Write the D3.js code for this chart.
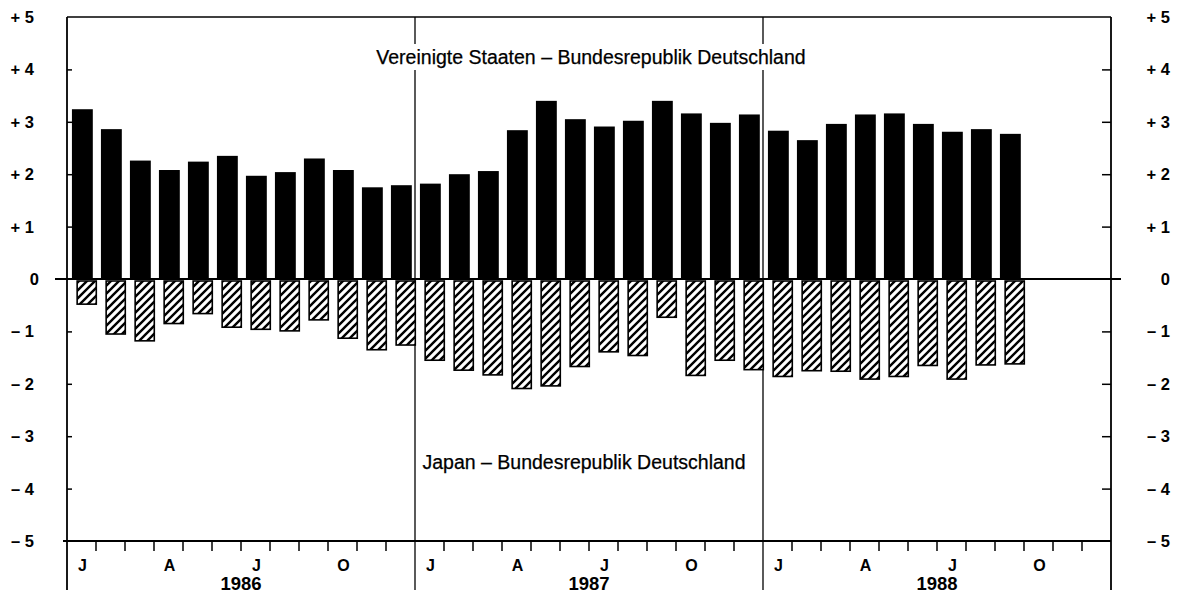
<!DOCTYPE html>
<html>
<head>
<meta charset="utf-8">
<script src="https://cdn.jsdelivr.net/npm/d3@7/dist/d3.min.js"></script>
<style>
  html, body { margin: 0; padding: 0; background: #fff; }
  svg { display: block; font-family: "Liberation Sans", Arial, Helvetica, sans-serif; }
</style>
</head>
<body>
<svg id="chart" width="1183" height="595"></svg>
<script>
// ---------- data ----------
const years = ["1986", "1987", "1988"];
const monthLetters = ["J", "", "", "A", "", "", "J", "", "", "O", "", ""];
const months = years.flatMap(yr => d3.range(1, 13).map(m => yr + "-" + String(m).padStart(2, "0")));
// Vereinigte Staaten – Bundesrepublik Deutschland (Jan 1986 – Sep 1988)
const usValues = [3.24, 2.86, 2.26, 2.08, 2.24, 2.35, 1.97, 2.04, 2.30, 2.08, 1.75, 1.79,
                  1.82, 2.00, 2.06, 2.84, 3.40, 3.05, 2.91, 3.02, 3.40, 3.16, 2.98, 3.14,
                  2.83, 2.65, 2.96, 3.14, 3.16, 2.96, 2.81, 2.86, 2.77];
// Japan – Bundesrepublik Deutschland
const japanValues = [-0.48, -1.05, -1.18, -0.85, -0.66, -0.92, -0.96, -0.99, -0.78, -1.13, -1.35, -1.26,
                     -1.55, -1.74, -1.83, -2.09, -2.04, -1.67, -1.39, -1.46, -0.73, -1.84, -1.55, -1.73,
                     -1.86, -1.75, -1.76, -1.91, -1.86, -1.65, -1.91, -1.64, -1.62];
const yTickValues = [-5, -4, -3, -2, -1, 0, 1, 2, 3, 4, 5];
const yTickLabels = ["– 5", "– 4", "– 3", "– 2", "– 1", "0", "+ 1", "+ 2", "+ 3", "+ 4", "+ 5"];
const usLabel = "Vereinigte Staaten – Bundesrepublik Deutschland";
const japanLabel = "Japan – Bundesrepublik Deutschland";

(function () {
// ---------- layout ----------
const svg = d3.select("#chart");
const pl = 67, pr = 1111, pt = 17, pb = 541;
const x = d3.scaleBand().domain(months).range([pl, pr]).padding(0);
const y = d3.scaleLinear().domain([-5, 5]).range([pb, pt]);
const bw = x.bandwidth();
const ink = "#000";

// hatch pattern
const defs = svg.append("defs");
const pat = defs.append("pattern")
  .attr("id", "hatch").attr("patternUnits", "userSpaceOnUse")
  .attr("width", 8).attr("height", 8);
pat.append("rect").attr("width", 8).attr("height", 8).attr("fill", "#fff");
pat.append("path")
  .attr("d", "M-2,2 L2,-2 M0,8 L8,0 M6,10 L10,6")
  .attr("stroke", ink).attr("stroke-width", 2.4);

// frame lines
svg.append("line").attr("x1", pl).attr("x2", pr).attr("y1", pt).attr("y2", pt)
  .attr("stroke", ink).attr("stroke-width", 1.6);
svg.append("line").attr("x1", pl - 4).attr("x2", pr).attr("y1", pb).attr("y2", pb)
  .attr("stroke", ink).attr("stroke-width", 1.8);
[pl, pr].forEach(xx => {
  svg.append("line").attr("x1", xx).attr("x2", xx).attr("y1", pt).attr("y2", 590)
    .attr("stroke", ink).attr("stroke-width", 1.8);
});
// year separators
years.slice(1).forEach(yr => {
  const xx = x(yr + "-01");
  svg.append("line").attr("x1", xx).attr("x2", xx).attr("y1", pt).attr("y2", 590)
    .attr("stroke", ink).attr("stroke-width", 1.3);
});

// y ticks via axes
const innerTicks = yTickValues.filter(v => v !== 0 && Math.abs(v) !== 5);
svg.append("g").attr("transform", `translate(${pl},0)`)
  .call(d3.axisRight(y).tickValues(innerTicks).tickSize(5).tickFormat(""))
  .call(g => g.select(".domain").remove())
  .call(g => g.selectAll("line").attr("stroke", ink).attr("stroke-width", 1.5));
svg.append("g").attr("transform", `translate(${pr},0)`)
  .call(d3.axisLeft(y).tickValues(innerTicks).tickSize(9).tickFormat(""))
  .call(g => g.select(".domain").remove())
  .call(g => g.selectAll("line").attr("stroke", ink).attr("stroke-width", 1.5));

// y tick labels
svg.append("g").selectAll("text").data(yTickValues).join("text")
  .attr("x", d => d === 0 ? 39 : 34).attr("y", d => y(d)).attr("dy", "0.36em")
  .attr("text-anchor", "end").attr("font-size", 16.5).attr("font-weight", "bold")
  .text((d, i) => yTickLabels[i]);
svg.append("g").selectAll("text").data(yTickValues).join("text")
  .attr("x", 1170).attr("y", d => y(d)).attr("dy", "0.36em")
  .attr("text-anchor", "end").attr("font-size", 16.5).attr("font-weight", "bold")
  .text((d, i) => yTickLabels[i]);

// month ticks on bottom
const monthBoundaries = months.slice(1).filter(m => !m.endsWith("-01"));
svg.append("g").selectAll("line").data(monthBoundaries).join("line")
  .attr("x1", d => x(d)).attr("x2", d => x(d))
  .attr("y1", pb).attr("y2", pb + 10)
  .attr("stroke", ink).attr("stroke-width", 1.5);

// month letters
svg.append("g").selectAll("text").data(months).join("text")
  .attr("x", d => x(d) + bw / 2 + 1).attr("y", 571)
  .attr("text-anchor", "middle").attr("font-size", 16).attr("font-weight", "bold")
  .text((d, i) => monthLetters[i % 12]);
// year labels
svg.append("g").selectAll("text").data(years).join("text")
  .attr("x", d => x(d + "-07")).attr("y", 590)
  .attr("text-anchor", "middle").attr("font-size", 18.5).attr("font-weight", "bold")
  .text(d => d);

// bars: US (solid)
svg.append("g").selectAll("rect").data(usValues).join("rect")
  .attr("x", (d, i) => x(months[i]) + bw * 0.17)
  .attr("width", bw * 0.72)
  .attr("y", d => y(d))
  .attr("height", d => y(0) - y(d))
  .attr("fill", ink);

// bars: Japan (hatched)
svg.append("g").selectAll("rect").data(japanValues).join("rect")
  .attr("x", (d, i) => x(months[i]) + bw * 0.35)
  .attr("width", bw * 0.66)
  .attr("y", y(0) + 2)
  .attr("height", d => y(d) - y(0) - 2)
  .attr("fill", "url(#hatch)")
  .attr("stroke", ink).attr("stroke-width", 1.6);

// zero line
svg.append("line").attr("x1", pl - 12).attr("x2", pr + 10).attr("y1", y(0)).attr("y2", y(0))
  .attr("stroke", ink).attr("stroke-width", 2.2);

// series labels with white background
function label(txt, cx, cy) {
  const g = svg.append("g");
  const t = g.append("text").attr("x", cx).attr("y", cy)
    .attr("text-anchor", "middle").attr("font-size", 19.5).attr("fill", ink)
    .attr("stroke", ink).attr("stroke-width", 0.25).text(txt);
  const b = t.node().getBBox();
  g.insert("rect", "text").attr("x", b.x - 3).attr("y", b.y - 2)
    .attr("width", b.width + 6).attr("height", b.height + 4).attr("fill", "#fff");
}
label(usLabel, 591, 64);
label(japanLabel, 584, 469);
})();
</script>
</body>
</html>
